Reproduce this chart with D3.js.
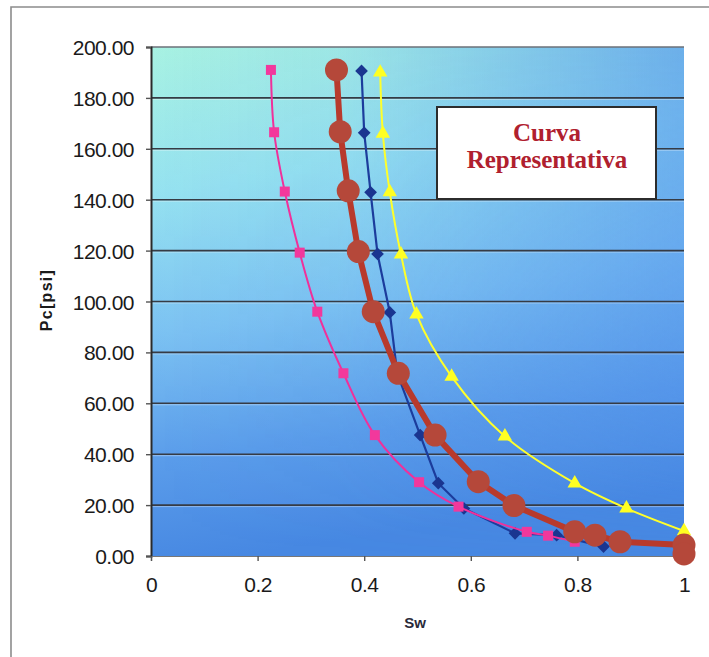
<!DOCTYPE html>
<html>
<head>
<meta charset="utf-8">
<script src="https://cdn.jsdelivr.net/npm/d3@7/dist/d3.min.js"></script>
<style>
  html, body { margin: 0; padding: 0; background: #ffffff; }
  svg { display: block; }
</style>
</head>
<body>
<div id="chart"></div>
<script>
// Capillary pressure curves: Pc [psi] versus water saturation Sw
const yTicks = [0, 20, 40, 60, 80, 100, 120, 140, 160, 180, 200];
const xTicks = [0, 0.2, 0.4, 0.6, 0.8, 1];

const pinkSw = [0.225, 0.231, 0.251, 0.279, 0.312, 0.361, 0.420, 0.503, 0.577, 0.705, 0.745, 0.795];
const pinkPc = [191.0, 166.5, 143.2, 119.2, 96.0, 71.8, 47.5, 29.0, 19.4, 9.5, 8.0, 5.6];

const blueSw = [0.395, 0.400, 0.412, 0.425, 0.448, 0.462, 0.505, 0.539, 0.587, 0.683, 0.761, 0.849];
const bluePc = [190.6, 166.3, 142.9, 118.7, 95.7, 71.8, 47.5, 28.6, 18.7, 8.9, 8.2, 3.7];

const yellowSw = [0.430, 0.435, 0.448, 0.469, 0.498, 0.564, 0.664, 0.795, 0.892, 1.000];
const yellowPc = [190.0, 166.0, 143.0, 118.5, 95.0, 70.5, 47.0, 28.6, 18.7, 9.8];

const redSw = [0.348, 0.355, 0.370, 0.389, 0.417, 0.464, 0.533, 0.614, 0.681, 0.795, 0.833, 0.880, 1.000, 1.000];
const redPc = [191.0, 166.7, 143.5, 119.6, 96.0, 71.8, 47.5, 29.2, 19.8, 9.5, 8.2, 5.6, 4.3, 0.8];

const boxLines = ["Curva", "Representativa"];

const W = 709, H = 657;
const plot = { left: 151, right: 684, top: 47, bottom: 556 };

const svg = d3.select("#chart").append("svg")
  .attr("width", W).attr("height", H);

const x = d3.scaleLinear().domain([0, 1]).range([plot.left, plot.right]);
const y = d3.scaleLinear().domain([0, 200]).range([plot.bottom, plot.top]);

const defs = svg.append("defs");
const bg = defs.append("linearGradient").attr("id", "bgGrad")
  .attr("x1", "0").attr("y1", "0").attr("x2", "0.15").attr("y2", "1");
[["0", "#a8f2e2"], ["0.28", "#96e2f0"], ["0.55", "#7cc2f2"], ["0.8", "#5a9cea"], ["1", "#4788e2"]]
  .forEach(([o, c]) => bg.append("stop").attr("offset", o).attr("stop-color", c));
const side = defs.append("linearGradient").attr("id", "sideGrad")
  .attr("x1", "0").attr("y1", "0").attr("x2", "1").attr("y2", "0");
side.append("stop").attr("offset", "0").attr("stop-color", "#4a88ea").attr("stop-opacity", 0);
side.append("stop").attr("offset", "0.35").attr("stop-color", "#4a88ea").attr("stop-opacity", 0.08);
side.append("stop").attr("offset", "1").attr("stop-color", "#4a88ea").attr("stop-opacity", 0.6);
const fade = defs.append("linearGradient").attr("id", "fadeGrad")
  .attr("x1", "0").attr("y1", "0").attr("x2", "0").attr("y2", "1");
fade.append("stop").attr("offset", "0").attr("stop-color", "#fff");
fade.append("stop").attr("offset", "0.6").attr("stop-color", "#fff").attr("stop-opacity", 0.6);
fade.append("stop").attr("offset", "1").attr("stop-color", "#fff").attr("stop-opacity", 0);
defs.append("mask").attr("id", "fadeMask")
  .attr("maskUnits", "userSpaceOnUse")
  .append("rect")
  .attr("x", plot.left).attr("y", plot.top)
  .attr("width", plot.right - plot.left).attr("height", plot.bottom - plot.top)
  .attr("fill", "url(#fadeGrad)");

// outer frame
svg.append("path")
  .attr("d", `M11,${H} L11,7 L${W},7`)
  .attr("fill", "none").attr("stroke", "#8c8c8c").attr("stroke-width", 1.6);

// plot background
svg.append("rect")
  .attr("x", plot.left).attr("y", plot.top)
  .attr("width", plot.right - plot.left).attr("height", plot.bottom - plot.top)
  .attr("fill", "url(#bgGrad)");
svg.append("rect")
  .attr("x", plot.left).attr("y", plot.top)
  .attr("width", plot.right - plot.left).attr("height", plot.bottom - plot.top)
  .attr("fill", "url(#sideGrad)")
  .attr("mask", "url(#fadeMask)");

// horizontal grid lines
const grid = svg.append("g");
yTicks.filter(t => t > 0 && t < 200).forEach(t => {
  grid.append("line")
    .attr("x1", plot.left).attr("x2", plot.right)
    .attr("y1", y(t) + 1.5).attr("y2", y(t) + 1.5)
    .attr("stroke", "#ffffff").attr("stroke-opacity", 0.35).attr("stroke-width", 1);
  grid.append("line")
    .attr("x1", plot.left).attr("x2", plot.right)
    .attr("y1", y(t)).attr("y2", y(t))
    .attr("stroke", "#363b44").attr("stroke-width", 1.6);
});
svg.append("line")
  .attr("x1", plot.left).attr("x2", plot.right)
  .attr("y1", plot.top).attr("y2", plot.top)
  .attr("stroke", "#6b7078").attr("stroke-width", 1.4);

// axes
const yAxis = svg.append("g")
  .attr("transform", `translate(${plot.left},0)`)
  .call(d3.axisLeft(y).tickValues(yTicks).tickFormat(d3.format(".2f")).tickSize(5).tickPadding(12));
const xAxis = svg.append("g")
  .attr("transform", `translate(0,${plot.bottom})`)
  .call(d3.axisBottom(x).tickValues(xTicks).tickFormat(d => d === 0 || d === 1 ? d3.format("d")(d) : d3.format(".1f")(d)).tickSize(5).tickPadding(16));
[yAxis, xAxis].forEach(a => {
  a.selectAll("text")
    .attr("font-family", "'Liberation Sans', Arial, sans-serif")
    .attr("font-size", 21).attr("fill", "#1a1a1a").attr("letter-spacing", -0.5);
  a.selectAll("line").attr("stroke", "#555").attr("stroke-width", 1.4);
});
yAxis.select(".domain").attr("stroke", "#2a2a2a").attr("stroke-width", 2);
xAxis.select(".domain").attr("stroke", "#777").attr("stroke-width", 1.2);
yAxis.selectAll(".tick text").attr("dy", "0.36em");

// axis titles
svg.append("text")
  .attr("transform", `translate(52,300) rotate(-90)`)
  .attr("text-anchor", "middle")
  .attr("font-family", "'Liberation Sans', Arial, sans-serif")
  .attr("font-weight", "bold").attr("font-size", 16).attr("letter-spacing", 1.3)
  .attr("fill", "#1a1a1a")
  .text("Pc[psi]");
svg.append("text")
  .attr("x", 415).attr("y", 628)
  .attr("text-anchor", "middle")
  .attr("font-family", "'Liberation Sans', Arial, sans-serif")
  .attr("font-weight", "bold").attr("font-size", 15)
  .attr("fill", "#2a2a3a")
  .text("Sw");

// series
const zip = (a, b) => a.map((v, i) => [v, b[i]]);
const lineGen = curve => d3.line().x(d => x(d[0])).y(d => y(d[1])).curve(curve);

const blue = zip(blueSw, bluePc);
const pink = zip(pinkSw, pinkPc);
const yellow = zip(yellowSw, yellowPc);
const red = zip(redSw, redPc);

// blue diamonds
svg.append("path").datum(blue)
  .attr("d", lineGen(d3.curveLinear))
  .attr("fill", "none").attr("stroke", "#1c3c9c").attr("stroke-width", 2.2);
svg.append("g").selectAll("rect").data(blue).join("rect")
  .attr("x", -4.5).attr("y", -4.5).attr("width", 9).attr("height", 9)
  .attr("transform", d => `translate(${x(d[0])},${y(d[1])}) rotate(45)`)
  .attr("fill", "#1a3590");

// pink squares
svg.append("path").datum(pink)
  .attr("d", lineGen(d3.curveCatmullRom))
  .attr("fill", "none").attr("stroke", "#f0309a").attr("stroke-width", 2);
svg.append("g").selectAll("rect").data(pink).join("rect")
  .attr("x", d => x(d[0]) - 5).attr("y", d => y(d[1]) - 5)
  .attr("width", 10).attr("height", 10)
  .attr("fill", "#f2389c");

// yellow triangles
svg.append("path").datum(yellow)
  .attr("d", lineGen(d3.curveCatmullRom))
  .attr("fill", "none").attr("stroke", "#ffff2a").attr("stroke-width", 2);
svg.append("g").selectAll("path").data(yellow).join("path")
  .attr("transform", d => `translate(${x(d[0])},${y(d[1])})`)
  .attr("d", d3.symbol(d3.symbolTriangle, 90))
  .attr("fill", "#ffff22");

// representative curve
svg.append("path").datum(red)
  .attr("d", lineGen(d3.curveLinear))
  .attr("fill", "none").attr("stroke", "#b83a2c").attr("stroke-width", 6)
  .attr("stroke-linejoin", "round");
svg.append("g").selectAll("circle").data(red).join("circle")
  .attr("cx", d => x(d[0])).attr("cy", d => y(d[1]))
  .attr("r", 11.5)
  .attr("fill", "#b5483a");

// label box
const box = svg.append("g");
box.append("rect")
  .attr("x", 437).attr("y", 107).attr("width", 219).attr("height", 92)
  .attr("fill", "#ffffff").attr("stroke", "#2c2c2c").attr("stroke-width", 2);
box.selectAll("text").data(boxLines).join("text")
  .attr("x", 547).attr("y", (d, i) => 141 + i * 27)
  .attr("text-anchor", "middle")
  .attr("font-family", "'Liberation Serif', 'Times New Roman', serif")
  .attr("font-weight", "bold").attr("font-size", 25)
  .attr("fill", "#b0202e")
  .text(d => d);
</script>
</body>
</html>
